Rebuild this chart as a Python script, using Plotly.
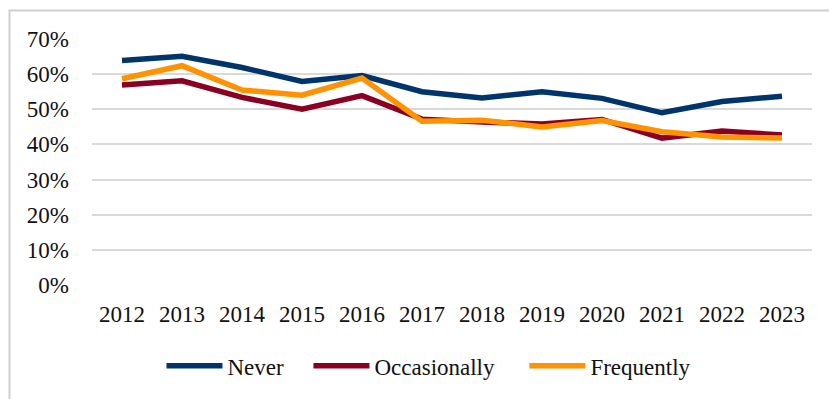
import plotly.graph_objects as go

# Survey years and the share of respondents in each group
years = ["2012", "2013", "2014", "2015", "2016", "2017",
         "2018", "2019", "2020", "2021", "2022", "2023"]
never = [0.639, 0.651, 0.619, 0.579, 0.596, 0.550,
         0.532, 0.550, 0.531, 0.490, 0.522, 0.537]
occasionally = [0.569, 0.581, 0.534, 0.500, 0.539, 0.472,
                0.464, 0.458, 0.471, 0.418, 0.438, 0.427]
frequently = [0.587, 0.624, 0.555, 0.540, 0.589, 0.466,
              0.469, 0.450, 0.468, 0.436, 0.421, 0.418]
y_ticks = [0, 0.1, 0.2, 0.3, 0.4, 0.5, 0.6, 0.7]

series = [
    ("Never", never, "#00356B"),
    ("Occasionally", occasionally, "#8A0022"),
    ("Frequently", frequently, "#FF9200"),
]
# left edge (px) of each legend entry
legend_left = [161, 308, 524]

W, H = 829, 399
ml, mr, mt, mb = 91.5, 17.3, 39, 109.4
pw, ph = W - ml - mr, H - mt - mb
legend_y = -(372 - mt - ph) / ph

font = dict(family="Liberation Serif, Times New Roman, serif", size=23, color="#111111")

fig = go.Figure()
legend_layouts = {}
for i, (name, vals, color) in enumerate(series):
    key = "legend" if i == 0 else f"legend{i + 1}"
    fig.add_trace(go.Scatter(
        x=years, y=vals, name=name, mode="lines",
        line=dict(color=color, width=5.5),
        legend=key,
    ))
    legend_layouts[key] = dict(
        orientation="h", x=(legend_left[i] - ml) / pw, xanchor="left",
        y=legend_y, yanchor="middle",
        font=font, itemwidth=56, bgcolor="rgba(0,0,0,0)",
    )

# outer chart frame (runs off the right and bottom edges)
fig.add_shape(
    type="rect", xref="paper", yref="paper",
    x0=(9 - ml) / pw, x1=(W + 10 - ml) / pw,
    y0=-(mb + 10) / ph, y1=(ph + mt - 10) / ph,
    line=dict(color="#CFCFCF", width=2), fillcolor="rgba(0,0,0,0)",
    layer="below",
)

fig.update_layout(
    width=W, height=H,
    margin=dict(l=ml, r=mr, t=mt, b=mb, pad=0),
    paper_bgcolor="white", plot_bgcolor="white",
    font=font,
    showlegend=True,
    xaxis=dict(
        type="category", range=[-0.5, 11.5],
        showgrid=False, showline=False, zeroline=False,
        ticks="", ticklabelstandoff=13, tickfont=font,
    ),
    yaxis=dict(
        range=[0, 0.7], tickvals=y_ticks, tickformat=".0%",
        showgrid=True, gridcolor="#D9D9D9", gridwidth=2,
        zeroline=False, showline=False, ticks="",
        ticklabelstandoff=22, tickfont=font,
    ),
    **legend_layouts,
)

fig.write_html("out.html")
